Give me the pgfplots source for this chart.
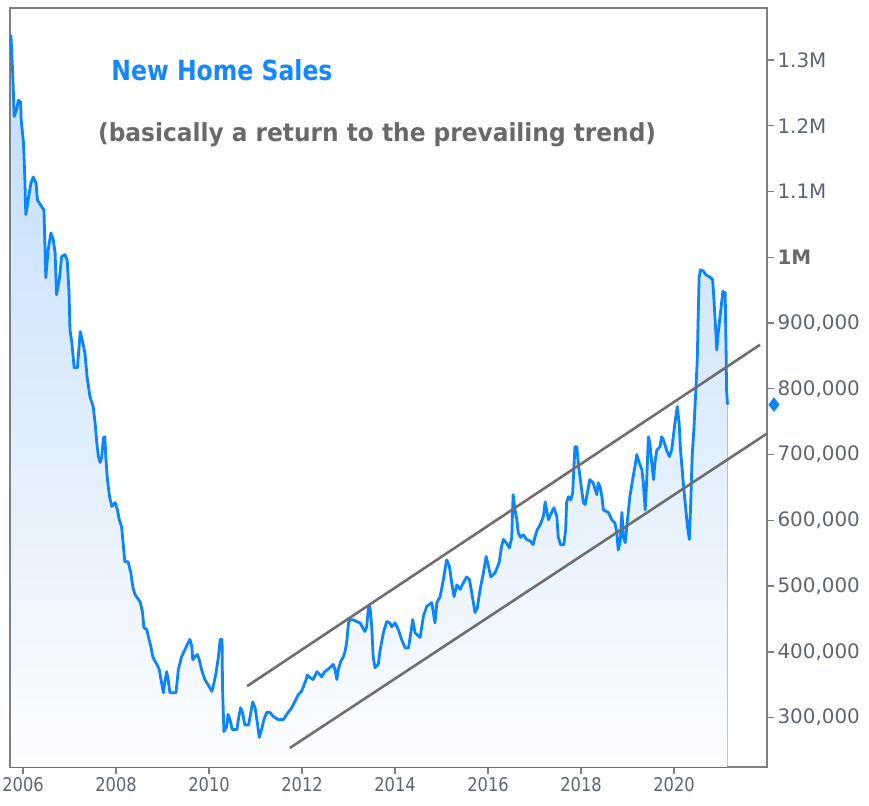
\documentclass[border=0pt]{standalone}
\usepackage{pgfplots}
\pgfplotsset{compat=1.18}
\usepackage{pgfplotstable}
\usepgfplotslibrary{fillbetween}
\usepackage{fontspec}
\setmainfont{DejaVu Sans}
\newfontfamily\titlefont[FakeStretch=0.85]{DejaVu Sans}
\newfontfamily\subfont[FakeStretch=0.935]{DejaVu Sans}
\newfontfamily\xfont[FakeStretch=0.86]{DejaVu Sans}
\definecolor{lineblue}{RGB}{10,132,255}
\definecolor{titleblue}{RGB}{20,135,255}
\definecolor{subgray}{RGB}{105,105,105}
\definecolor{trendgray}{RGB}{110,110,110}
\definecolor{axisgray}{RGB}{128,128,128}
\definecolor{labelgray}{RGB}{92,100,115}
\definecolor{fillTop}{RGB}{192,220,250}
\definecolor{fillBot}{RGB}{252,253,255}

\pgfplotstableread{
x y
2005.74 1338
2005.78 1277
2005.81 1214
2005.86 1224
2005.90 1239
2005.95 1236
2005.96 1209
2006.01 1174
2006.04 1118
2006.06 1065
2006.11 1087
2006.17 1113
2006.22 1122
2006.28 1113
2006.31 1087
2006.40 1077
2006.45 1072
2006.47 1022
2006.49 969
2006.54 1011
2006.60 1037
2006.65 1027
2006.69 1007
2006.72 943
2006.78 966
2006.83 1001
2006.90 1004
2006.95 996
2006.99 946
2007.01 890
2007.05 870
2007.10 832
2007.17 832
2007.23 887
2007.28 872
2007.33 855
2007.38 817
2007.44 788
2007.51 773
2007.55 748
2007.58 723
2007.62 697
2007.66 688
2007.69 695
2007.73 726
2007.76 727
2007.78 697
2007.81 666
2007.86 636
2007.91 621
2007.98 627
2008.03 616
2008.07 601
2008.12 590
2008.16 560
2008.19 537
2008.26 537
2008.32 520
2008.36 499
2008.41 487
2008.46 482
2008.52 476
2008.57 460
2008.60 437
2008.66 434
2008.71 419
2008.75 408
2008.79 393
2008.82 388
2008.88 381
2008.93 373
2008.98 353
2009.02 338
2009.05 355
2009.09 370
2009.12 358
2009.16 338
2009.29 338
2009.34 373
2009.41 393
2009.48 403
2009.55 414
2009.59 419
2009.63 408
2009.65 388
2009.70 393
2009.75 396
2009.79 388
2009.84 373
2009.91 358
2009.98 350
2010.06 340
2010.09 347
2010.15 368
2010.20 391
2010.24 419
2010.28 419
2010.29 347
2010.32 279
2010.38 286
2010.41 305
2010.45 297
2010.50 282
2010.60 282
2010.63 297
2010.68 315
2010.72 308
2010.77 289
2010.85 289
2010.90 308
2010.94 324
2010.99 315
2011.04 292
2011.08 270
2011.13 282
2011.18 297
2011.24 308
2011.31 308
2011.38 302
2011.49 297
2011.60 297
2011.67 305
2011.78 315
2011.92 335
2011.99 340
2012.09 358
2012.11 365
2012.17 361
2012.24 358
2012.32 370
2012.39 365
2012.42 362
2012.49 370
2012.60 376
2012.67 381
2012.71 373
2012.75 358
2012.78 373
2012.83 385
2012.89 393
2012.92 399
2012.96 414
2013.00 444
2013.03 449
2013.09 449
2013.18 446
2013.25 444
2013.35 431
2013.39 438
2013.43 469
2013.46 469
2013.50 438
2013.53 393
2013.57 376
2013.64 381
2013.68 403
2013.75 429
2013.82 446
2013.89 444
2013.93 438
2014.00 444
2014.07 434
2014.14 419
2014.22 406
2014.29 406
2014.34 429
2014.38 449
2014.43 429
2014.54 422
2014.61 454
2014.68 469
2014.79 475
2014.86 444
2014.90 475
2014.97 484
2015.04 510
2015.11 540
2015.17 530
2015.22 505
2015.27 484
2015.33 502
2015.40 495
2015.47 505
2015.54 514
2015.60 510
2015.65 490
2015.72 460
2015.77 467
2015.83 495
2015.90 520
2015.96 545
2016.01 530
2016.06 514
2016.15 520
2016.24 536
2016.29 560
2016.33 571
2016.39 566
2016.46 558
2016.51 574
2016.54 639
2016.58 616
2016.62 601
2016.65 581
2016.70 574
2016.76 578
2016.83 571
2016.92 568
2016.97 563
2017.01 575
2017.06 586
2017.12 593
2017.19 606
2017.23 628
2017.26 616
2017.30 601
2017.33 606
2017.39 616
2017.42 619
2017.48 606
2017.51 575
2017.56 563
2017.63 563
2017.67 586
2017.69 627
2017.73 636
2017.78 631
2017.82 642
2017.87 712
2017.91 712
2017.94 688
2017.98 665
2018.05 627
2018.09 624
2018.12 636
2018.19 662
2018.26 657
2018.34 639
2018.37 657
2018.41 651
2018.45 636
2018.48 616
2018.59 612
2018.66 601
2018.73 596
2018.77 581
2018.80 555
2018.84 566
2018.88 612
2018.91 575
2018.95 566
2019.00 601
2019.05 636
2019.11 662
2019.16 682
2019.20 700
2019.25 688
2019.31 677
2019.34 657
2019.38 616
2019.41 657
2019.45 727
2019.48 718
2019.52 688
2019.56 662
2019.59 688
2019.63 707
2019.70 712
2019.73 727
2019.77 723
2019.84 707
2019.90 697
2019.95 707
2020.02 748
2020.07 773
2020.11 748
2020.14 707
2020.20 657
2020.26 612
2020.29 590
2020.33 571
2020.36 627
2020.39 697
2020.43 742
2020.47 799
2020.50 844
2020.52 910
2020.54 970
2020.57 981
2020.63 979
2020.69 973
2020.77 970
2020.83 966
2020.86 935
2020.90 885
2020.92 859
2020.95 885
2020.99 910
2021.03 935
2021.05 948
2021.10 946
2021.12 859
2021.13 799
2021.15 776
}\sales

\begin{document}
\begin{tikzpicture}
\begin{axis}[
  name=ax,
  scale only axis, width=757bp, height=759bp,
  xmin=2005.72, xmax=2022.0, ymin=225, ymax=1379,
  axis line style={draw=axisgray, line width=1.5bp},
  xtick={2006,2008,2010,2012,2014,2016,2018,2020},
  xticklabels={2006,2008,2010,2012,2014,2016,2018,2020},
  ytick={300,400,500,600,700,800,900,1000,1100,1200,1300},
  yticklabels={300{,}000,400{,}000,500{,}000,600{,}000,700{,}000,800{,}000,900{,}000,{\textcolor{subgray}{\bfseries 1M}},1.1M,1.2M,1.3M},
  xtick pos=bottom, ytick pos=right, yticklabel pos=right,
  tick align=outside, major tick length=7bp,
  tick style={draw=axisgray, line width=1.3bp},
  x tick label style={font=\xfont\fontsize{19}{19}\selectfont, text=labelgray},
  y tick label style={font=\fontsize{20}{20}\selectfont, text=labelgray},
  clip=false,
]
\addplot[name path=A, draw=none, forget plot] table {\sales};
\addplot[name path=B, draw=none, forget plot] coordinates {(2005.74,225) (2021.15,225)};
\addplot[top color=fillTop, bottom color=fillBot, draw=none, line width=0pt] fill between[of=A and B];
\addplot[lineblue, line width=2.8bp, line join=round] table {\sales};
\addplot[trendgray, line width=2.6bp] coordinates {(2010.82,348) (2021.85,867)};
\addplot[trendgray, line width=2.6bp] coordinates {(2011.74,254) (2022.0,732)};
\addplot[only marks, mark=diamond*, mark size=7bp, color=lineblue] coordinates {(2022.15,776)};
\node[font=\titlefont\bfseries\fontsize{27.8}{30}\selectfont, text=titleblue] at (rel axis cs:0.280,0.918) {New Home Sales};
\node[font=\subfont\bfseries\fontsize{25}{28}\selectfont, text=subgray] at (rel axis cs:0.485,0.833) {(basically a return to the prevailing trend)};
\end{axis}
\pgfresetboundingbox
\path (ax.south west) ++(-10bp,-39bp) rectangle ++(869bp,806bp);
\end{tikzpicture}
\end{document}
